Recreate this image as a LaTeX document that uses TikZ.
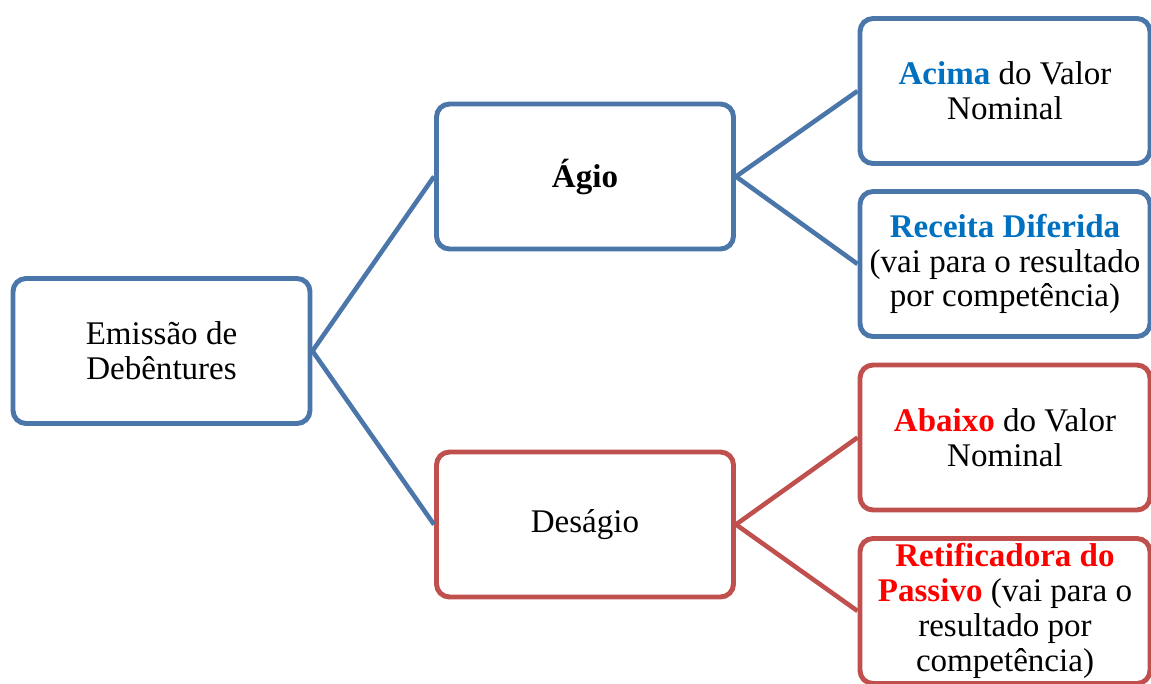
\documentclass[tikz,border=0pt]{standalone}
\usepackage{fontspec}
\setmainfont{Liberation Serif}
\usepackage{tikz}
\usetikzlibrary{positioning}
\definecolor{boxblue}{RGB}{74, 118, 170}
\definecolor{boxred}{RGB}{192, 80, 77}
\definecolor{wordblue}{RGB}{0, 112, 192}
\definecolor{wordred}{RGB}{255, 0, 0}

\begin{document}
\begin{tikzpicture}[
    card/.style={line width=1.4pt, rounded corners=0.13cm, fill=white,
      align=center, inner xsep=2pt, inner ysep=0pt,
      font=\fontsize{9.4}{9.9}\selectfont},
    leftcard/.style={card, minimum width=2.97cm, minimum height=1.45cm},
    rightcard/.style={card, minimum width=2.90cm, minimum height=1.45cm},
    link/.style={line width=1.3pt}
  ]
  \useasboundingbox (0,0) rectangle (11.51,6.83);
  \clip (0,0) rectangle (11.51,6.83);

  % Root
  \node[leftcard, draw=boxblue] (emissao) at (1.615,3.32) {Emissão de\\Debêntures};

  % Second level
  \node[leftcard, draw=boxblue] (agio) at (5.85,5.065) {\textbf{Ágio}};
  \node[leftcard, draw=boxred] (desagio) at (5.85,1.585) {Deságio};

  % Leaves
  \node[rightcard, draw=boxblue] (acima) at (10.05,5.92)
    {\textcolor{wordblue}{\textbf{Acima}} do Valor\\Nominal};
  \node[rightcard, draw=boxblue] (receita) at (10.05,4.19)
    {\textcolor{wordblue}{\textbf{Receita Diferida}}\\(vai para o resultado\\por competência)};
  \node[rightcard, draw=boxred] (abaixo) at (10.05,2.455)
    {\textcolor{wordred}{\textbf{Abaixo}} do Valor\\Nominal};
  \node[rightcard, draw=boxred] (retif) at (10.05,0.72)
    {\textcolor{wordred}{\textbf{Retificadora do}}\\\textcolor{wordred}{\textbf{Passivo}} (vai para o\\resultado por\\competência)};

  % Connectors
  \draw[link, boxblue] (emissao.east) -- (agio.west);
  \draw[link, boxblue] (emissao.east) -- (desagio.west);
  \draw[link, boxblue] (agio.east) -- (acima.west);
  \draw[link, boxblue] (agio.east) -- (receita.west);
  \draw[link, boxred] (desagio.east) -- (abaixo.west);
  \draw[link, boxred] (desagio.east) -- (retif.west);
\end{tikzpicture}
\end{document}
